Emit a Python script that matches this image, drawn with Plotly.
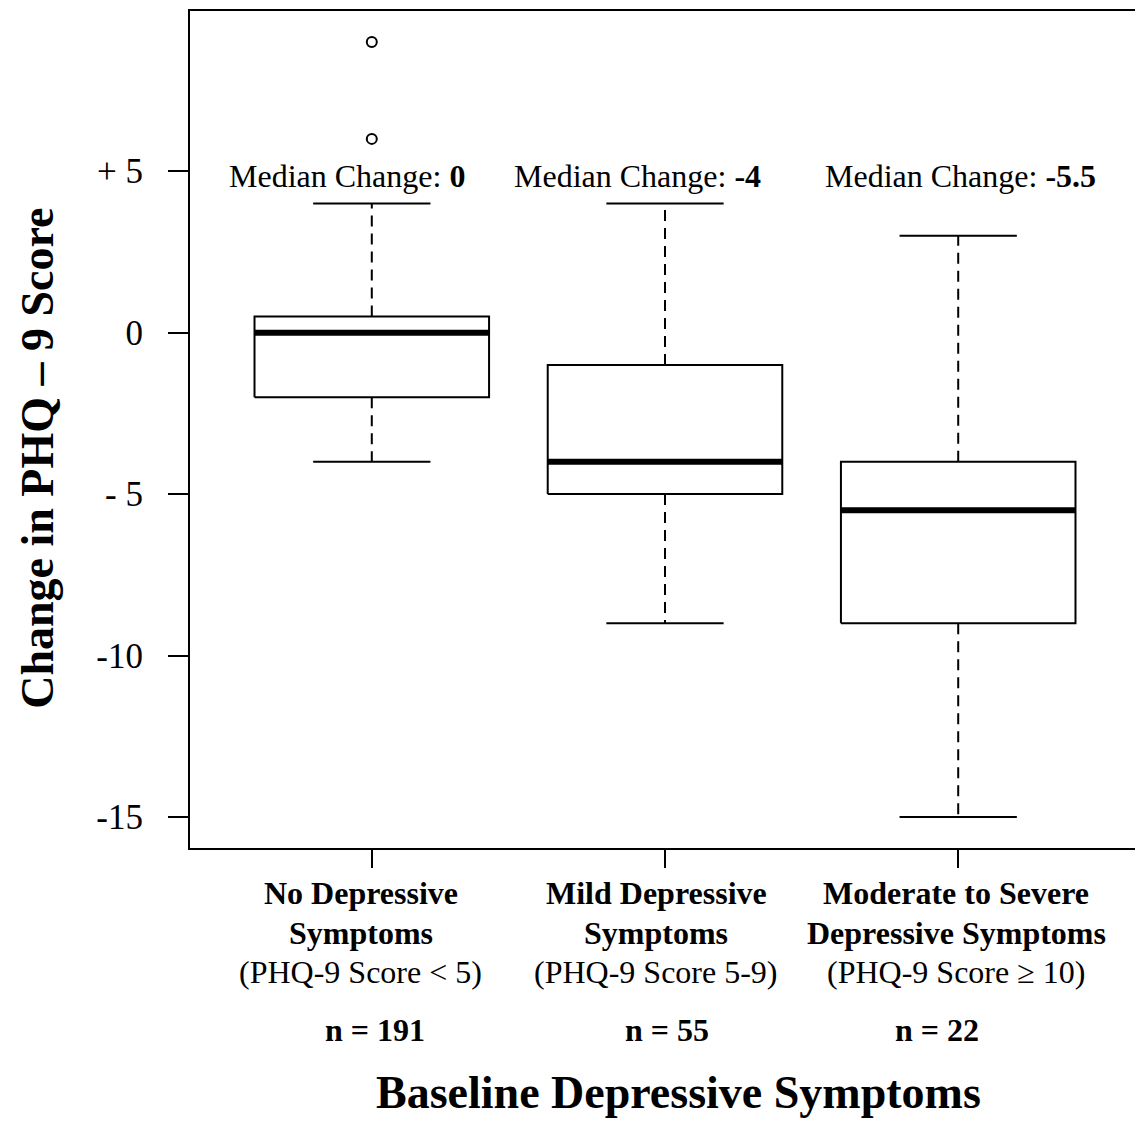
import plotly.graph_objects as go

# ---- data ----
positions = [1, 2, 3]
category_line1 = ["No Depressive", "Mild Depressive", "Moderate to Severe"]
category_line2 = ["Symptoms", "Symptoms", "Depressive Symptoms"]
score_ranges = ["(PHQ-9 Score &lt; 5)", "(PHQ-9 Score 5-9)", "(PHQ-9 Score ≥ 10)"]
n_labels = ["n = 191", "n = 55", "n = 22"]
q1 = [-2, -5, -9]
medians = [0, -4, -5.5]
q3 = [0.5, -1, -4]
lower_whisker = [-4, -9, -15]
upper_whisker = [4, 4, 3]
outlier_x = [1, 1]
outlier_y = [6, 9]
median_text = ["0", "-4", "-5.5"]
ytick_vals = [5, 0, -5, -10, -15]
ytick_text = ["+ 5", "0", "- 5", "-10", "-15"]

FONT = "Liberation Serif, Times New Roman, serif"
BW = 0.4   # half box width
CW = 0.2   # half cap width

fig = go.Figure()

# boxes
bx, by = [], []
for p, a, b in zip(positions, q1, q3):
    bx += [p - BW, p + BW, p + BW, p - BW, p - BW, None]
    by += [a, a, b, b, a, None]
fig.add_trace(go.Scatter(x=bx, y=by, mode="lines", line=dict(color="black", width=2),
                         hoverinfo="skip"))

# whiskers (dashed)
wx, wy = [], []
for p, a, b, lo, hi in zip(positions, q1, q3, lower_whisker, upper_whisker):
    wx += [p, p, None, p, p, None]
    wy += [b, hi, None, a, lo, None]
fig.add_trace(go.Scatter(x=wx, y=wy, mode="lines",
                         line=dict(color="black", width=2, dash="11px,7px"), hoverinfo="skip"))

# caps
cx, cy = [], []
for p, lo, hi in zip(positions, lower_whisker, upper_whisker):
    cx += [p - CW, p + CW, None, p - CW, p + CW, None]
    cy += [hi, hi, None, lo, lo, None]
fig.add_trace(go.Scatter(x=cx, y=cy, mode="lines", line=dict(color="black", width=2),
                         hoverinfo="skip"))

# medians
mx, my = [], []
for p, m in zip(positions, medians):
    mx += [p - BW, p + BW, None]
    my += [m, m, None]
fig.add_trace(go.Scatter(x=mx, y=my, mode="lines", line=dict(color="black", width=6),
                         hoverinfo="skip"))

# outliers
fig.add_trace(go.Scatter(x=outlier_x, y=outlier_y, mode="markers",
                         marker=dict(symbol="circle-open", size=10, color="black",
                                     line=dict(width=2)), hoverinfo="skip"))

# median annotations
xshifts = [-25, -28, 2]
for p, t, xs in zip(positions, median_text, xshifts):
    fig.add_annotation(x=p, y=4.86, xref="x", yref="y", text=f"Median Change: <b>{t}</b>",
                       showarrow=False, xshift=xs, font=dict(family=FONT, size=32, color="black"),
                       xanchor="center", yanchor="middle")

# category labels below the axis (one annotation per line)
label_shift = [-11, -9, -2]
n_shift = [3, 2, -21]
for i, p in enumerate(positions):
    for text, ys, bold, xs in [
        (category_line1[i], -45, True, label_shift[i]),
        (category_line2[i], -85, True, label_shift[i]),
        (score_ranges[i], -124, False, label_shift[i]),
        (n_labels[i], -182, True, n_shift[i]),
    ]:
        fig.add_annotation(x=p, y=0, xref="x", yref="paper",
                           text=f"<b>{text}</b>" if bold else text, showarrow=False,
                           xshift=xs, yshift=ys, yanchor="middle", xanchor="center",
                           font=dict(family=FONT, size=32, color="black"))

# x-axis title
fig.add_annotation(x=0.5, y=0, xref="paper", yref="paper", text="<b>Baseline Depressive Symptoms</b>",
                   showarrow=False, xshift=13, yshift=-244, yanchor="middle",
                   font=dict(family=FONT, size=46, color="black"))
# y-axis title
fig.add_annotation(x=0, y=0.465, xref="paper", yref="paper", text="<b>Change in PHQ – 9 Score</b>",
                   showarrow=False, xshift=-152, textangle=-90, xanchor="center", yanchor="middle",
                   font=dict(family=FONT, size=46, color="black"))

fig.update_layout(
    width=1135, height=1132,
    margin=dict(l=182, r=1, t=1, b=292),
    paper_bgcolor="white", plot_bgcolor="white",
    showlegend=False,
    font=dict(family=FONT, color="black"),
    xaxis=dict(range=[0.38, 3.62], tickvals=positions, showticklabels=False,
               showline=True, mirror=True, linecolor="black", linewidth=2,
               ticks="outside", ticklen=18, tickwidth=2, tickcolor="black",
               showgrid=False, zeroline=False),
    yaxis=dict(range=[-15.96, 9.96], tickvals=ytick_vals, ticktext=ytick_text,
               showline=True, mirror=True, linecolor="black", linewidth=2,
               ticks="outside", ticklen=20, tickwidth=2, tickcolor="black",
               showgrid=False, zeroline=False, tickfont=dict(family=FONT, size=35),
               ticklabelstandoff=18),
)

fig.write_html("out.html")
